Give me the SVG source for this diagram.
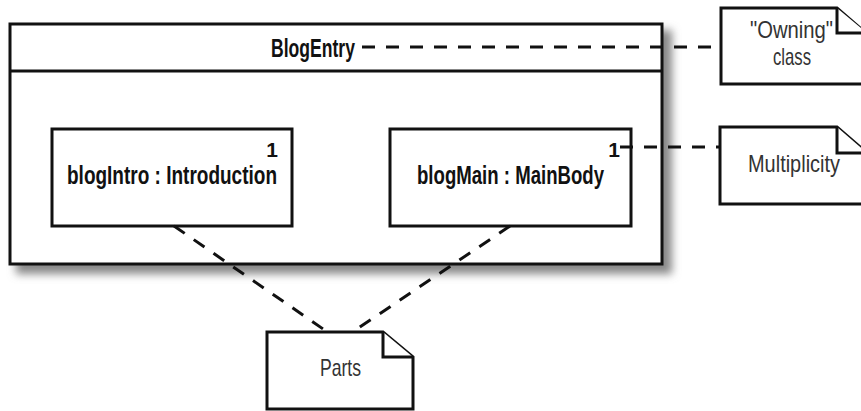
<svg xmlns="http://www.w3.org/2000/svg" width="861" height="411" viewBox="0 0 861 411">
  <style>
    .box { fill: #fff; stroke: #111; stroke-width: 3; }
    .note { fill: #fff; stroke: #111; stroke-width: 3; stroke-linejoin: miter; }
    .dash { fill: none; stroke: #111; stroke-width: 3; stroke-dasharray: 13 11; }
    .lbl { font-family: "Liberation Sans", Arial, sans-serif; font-weight: bold; font-size: 26px; fill: #111; }
    .mult { font-family: "Liberation Sans", Arial, sans-serif; font-weight: bold; font-size: 21px; fill: #111; }
    .ntxt { font-family: "Liberation Sans", Arial, sans-serif; font-size: 24px; fill: #333; }
  </style>
  <defs>
    <filter id="shadow" x="-10%" y="-10%" width="120%" height="120%">
      <feGaussianBlur stdDeviation="4"/>
    </filter>
  </defs>
  <rect width="861" height="411" fill="#fff"/>

  <g id="BlogEntry">
    <rect x="16" y="30" width="656" height="244" fill="#888" filter="url(#shadow)"/>
    <rect class="box" x="10" y="24" width="652" height="240"/>
    <line x1="10" y1="71" x2="662" y2="71" stroke="#111" stroke-width="3"/>
    <text class="lbl" x="271" y="57" textLength="84" lengthAdjust="spacingAndGlyphs">BlogEntry</text>
  </g>

  <g id="blogIntro">
    <rect class="box" x="52" y="129" width="240" height="97"/>
    <text class="mult" x="278" y="157" text-anchor="end">1</text>
    <text class="lbl" x="67" y="184" textLength="210" lengthAdjust="spacingAndGlyphs">blogIntro : Introduction</text>
  </g>

  <g id="blogMain">
    <rect class="box" x="390" y="129" width="241" height="97"/>
    <text class="mult" x="620" y="157" text-anchor="end">1</text>
    <text class="lbl" x="417" y="184" textLength="187" lengthAdjust="spacingAndGlyphs">blogMain : MainBody</text>
  </g>

  <g id="connectors">
    <line class="dash" x1="362" y1="47" x2="721" y2="47"/>
    <line class="dash" x1="620" y1="147" x2="721" y2="147"/>
    <line class="dash" x1="174" y1="226" x2="326" y2="331"/>
    <line class="dash" x1="510" y1="226" x2="354" y2="331"/>
  </g>

  <g id="note-owning">
    <path class="note" d="M721,8 H837 L867,34 V84 H721 Z"/>
    <path class="note" d="M837,8 V33 H867" fill="none"/>
    <text class="ntxt" x="750" y="38" textLength="83" lengthAdjust="spacingAndGlyphs">"Owning"</text>
    <text class="ntxt" x="773" y="65" textLength="38" lengthAdjust="spacingAndGlyphs">class</text>
  </g>

  <g id="note-multiplicity">
    <path class="note" d="M720,127 H837 L867,153 V204 H720 Z"/>
    <path class="note" d="M837,127 V153 H867" fill="none"/>
    <text class="ntxt" x="748" y="172" textLength="92" lengthAdjust="spacingAndGlyphs">Multiplicity</text>
  </g>

  <g id="note-parts">
    <path class="note" d="M267,332 H383 L413,357 V409 H267 Z"/>
    <path class="note" d="M383,332 V357 H413" fill="none"/>
    <text class="ntxt" x="320" y="376" textLength="41" lengthAdjust="spacingAndGlyphs">Parts</text>
  </g>
</svg>
